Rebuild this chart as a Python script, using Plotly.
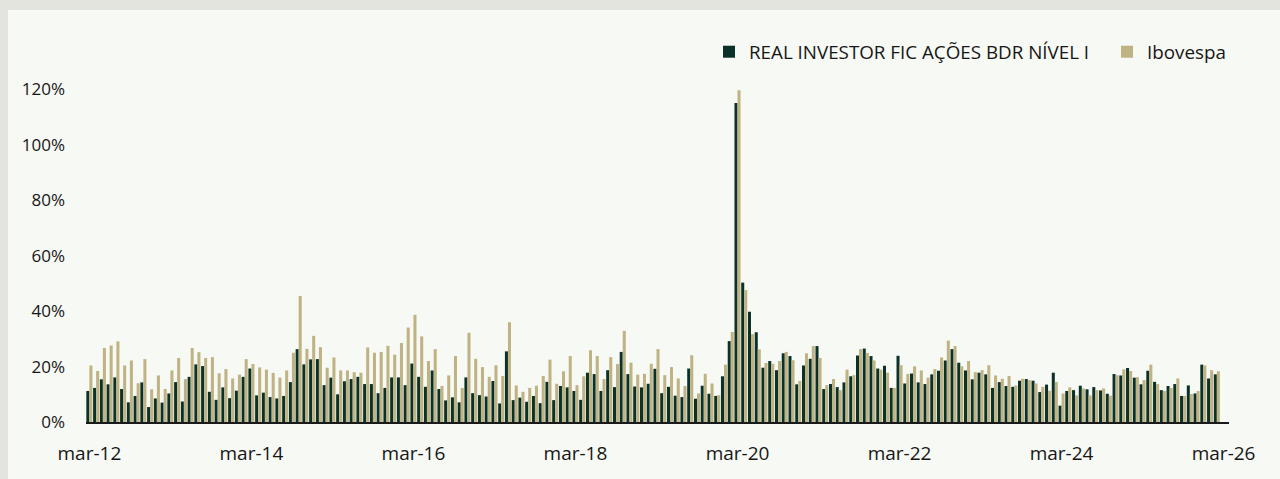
import plotly.graph_objects as go

# Month labels (Portuguese abbreviations), mar-12 .. mar-26
MESES = ["jan", "fev", "mar", "abr", "mai", "jun", "jul", "ago", "set", "out", "nov", "dez"]
months = []
y, m = 2012, 3
while (y, m) <= (2026, 3):
    months.append(f"{MESES[m-1]}-{str(y)[2:]}")
    m += 1
    if m > 12:
        m = 1
        y += 1

# Series values (%), monthly from mar-12 to fev-26
real_investor = [
    11.2, 12.3, 15.4, 13.6, 16.1, 11.9, 7.1, 9.4, 14.3, 5.4, 8.5, 7.0,
    10.3, 14.4, 7.4, 16.3, 20.8, 20.2, 10.9, 8.0, 12.5, 8.6, 11.3, 16.3,
    19.3, 9.6, 10.6, 9.0, 8.5, 9.4, 14.4, 26.3, 20.8, 22.6, 22.7, 13.3,
    16.0, 10.0, 14.7, 15.5, 16.3, 13.7, 13.7, 10.4, 12.3, 16.1, 16.1, 13.3,
    21.1, 16.3, 12.7, 18.6, 11.9, 7.8, 8.9, 7.1, 16.1, 10.4, 9.7, 9.2,
    14.8, 6.7, 25.5, 7.9, 8.8, 7.3, 9.4, 6.8, 14.5, 7.9, 13.0, 12.5,
    11.2, 8.0, 17.8, 17.3, 11.2, 18.7, 12.6, 25.3, 17.3, 12.8, 12.5, 13.8,
    19.2, 10.4, 12.7, 9.5, 9.0, 19.3, 8.4, 13.1, 10.2, 9.4, 16.5, 29.2,
    115.1, 50.3, 39.8, 32.4, 19.6, 22.0, 18.7, 24.8, 23.8, 13.6, 20.4, 22.8,
    27.4, 11.9, 13.7, 12.6, 14.3, 16.5, 24.0, 26.5, 23.8, 19.3, 20.3, 12.3,
    23.9, 13.9, 17.5, 14.3, 13.7, 17.2, 18.5, 22.2, 26.3, 21.4, 18.6, 15.4,
    17.8, 17.2, 12.3, 14.4, 13.0, 12.7, 14.9, 15.5, 14.9, 10.8, 13.5, 17.8,
    5.9, 11.2, 11.5, 13.1, 11.8, 12.6, 11.4, 10.2, 17.3, 16.8, 19.5, 16.0,
    13.6, 18.5, 14.5, 11.5, 13.0, 13.7, 9.4, 13.2, 10.3, 20.7, 15.7, 17.2,
]
ibovespa = [
    20.4, 18.4, 26.7, 27.6, 29.1, 20.4, 22.2, 14.0, 22.7, 11.8, 16.8, 11.9,
    18.6, 23.1, 15.5, 26.7, 25.2, 23.1, 23.4, 17.6, 19.1, 15.7, 17.1, 22.7,
    20.9, 19.7, 18.9, 17.7, 16.0, 18.6, 25.0, 45.5, 26.4, 31.1, 27.0, 19.6,
    23.3, 18.6, 18.6, 18.0, 17.8, 26.9, 25.0, 25.3, 27.5, 24.3, 28.5, 34.1,
    38.7, 30.9, 22.0, 26.3, 13.0, 16.8, 23.8, 12.3, 32.2, 22.8, 19.8, 16.3,
    20.5, 16.6, 36.0, 13.2, 10.9, 12.3, 13.1, 16.6, 22.5, 13.8, 18.3, 23.8,
    13.3, 16.5, 25.9, 23.8, 15.5, 23.4, 20.9, 32.9, 21.4, 17.1, 17.4, 21.0,
    26.3, 16.9, 19.8, 15.7, 13.0, 24.1, 10.3, 17.4, 13.9, 9.7, 20.7, 32.5,
    119.7, 47.6, 31.7, 26.2, 21.3, 21.0, 22.0, 25.3, 22.3, 14.8, 24.8, 27.4,
    23.1, 13.3, 15.5, 11.5, 18.9, 16.9, 26.3, 24.9, 22.2, 18.9, 17.8, 12.3,
    20.5, 17.3, 20.1, 18.6, 16.0, 19.1, 23.3, 29.4, 27.4, 20.1, 22.0, 18.0,
    18.7, 20.5, 16.8, 15.6, 16.6, 13.2, 15.6, 15.1, 13.9, 12.7, 11.3, 14.4,
    10.3, 12.5, 9.6, 12.1, 9.6, 11.5, 12.1, 9.5, 16.9, 19.0, 18.4, 16.2,
    15.1, 20.7, 13.7, 11.2, 12.3, 15.7, 9.4, 10.1, 11.2, 20.4, 18.7, 18.3,
]

tick_labels = [f"mar-{yy:02d}" for yy in range(12, 27, 2)]
y_ticks = [0, 20, 40, 60, 80, 100, 120]

DARK = "#0b3229"
BEIGE = "#bfb283"
TEXT = "#161616"
OUTER = "#e3e4de"
PANEL = "#f7f9f4"
FONT = "Open Sans"

x_data = months[:len(real_investor)]

fig = go.Figure()
fig.add_trace(go.Bar(x=x_data, y=real_investor, name="REAL INVESTOR FIC AÇÕES BDR NÍVEL I",
                     marker=dict(color=DARK, line=dict(width=0)), legend="legend"))
fig.add_trace(go.Bar(x=x_data, y=ibovespa, name="Ibovespa",
                     marker=dict(color=BEIGE, line=dict(width=0)), legend="legend2"))

L, R, T, B = 86, 51, 84, 57
W, H = 1280, 479
pw, ph = W - L - R, H - T - B

leg_common = dict(orientation="h", xanchor="left", yanchor="middle",
                  y=(H - B - 52) / ph,
                  font=dict(family=FONT, size=18.8, color=TEXT),
                  bgcolor="rgba(0,0,0,0)", itemwidth=30)

fig.update_layout(
    width=W, height=H,
    margin=dict(l=L, r=R, t=T, b=B, pad=0),
    paper_bgcolor=OUTER,
    plot_bgcolor="rgba(0,0,0,0)",
    barmode="group", bargap=0.1, bargroupgap=0,
    font=dict(family=FONT, size=17, color=TEXT),
    showlegend=True,
    legend=dict(x=(724 - 15 - L) / pw, **leg_common),
    legend2=dict(x=(1122 - 15 - L) / pw, **leg_common),
    shapes=[dict(type="rect", xref="paper", yref="paper", layer="below",
                 x0=(8 - L) / pw, x1=(W + 5 - L) / pw,
                 y0=-(B + 5) / ph, y1=(H - B - 10) / ph,
                 fillcolor=PANEL, line=dict(width=0))],
    xaxis=dict(type="category", categoryorder="array", categoryarray=months,
               range=[-0.5, len(months) - 0.2],
               tickmode="array", tickvals=tick_labels, ticktext=tick_labels,
               showgrid=False, zeroline=False, ticks="",
               showline=True, linecolor="#1a1a1a", linewidth=2,
               ticklabelstandoff=13, tickangle=0,
               tickfont=dict(family=FONT, size=19, color=TEXT)),
    yaxis=dict(range=[0, 122], tickmode="array", tickvals=y_ticks,
               ticktext=[f"{v}%" for v in y_ticks],
               showgrid=False, zeroline=False, showline=False, ticks="",
               ticklabelstandoff=20,
               tickfont=dict(family=FONT, size=17, color=TEXT)),
)

fig.write_html(
    "out.html",
    config={"displayModeBar": False},
    post_script=f"document.body.style.margin='0';document.body.style.background='{OUTER}';",
)
